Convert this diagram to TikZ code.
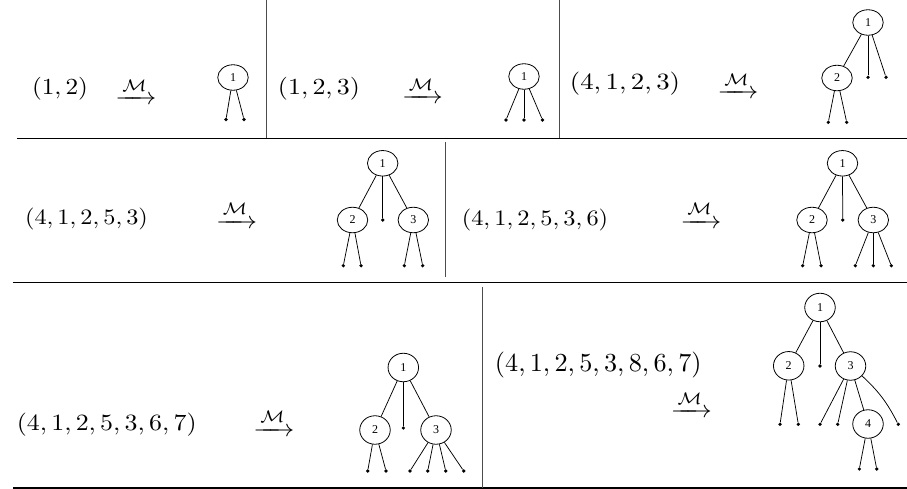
\documentclass[tikz,border=0pt]{standalone}
\usepackage{amsmath}
\usepackage{fontspec}
\newfontfamily\lblfont{Liberation Serif}
\usetikzlibrary{shapes.geometric}
\tikzset{
  tn/.style={ellipse, draw, line width=0.8pt, minimum width=30.5pt, minimum height=25.5pt, inner sep=0pt, font=\lblfont\fontsize{12}{13}\selectfont},
  tnb/.style={tn, minimum height=28.5pt},
  lf/.style={circle, fill, inner sep=0pt, minimum size=3.6pt},
  seq/.style={inner sep=0pt, anchor=center},
  arr/.style={inner sep=0pt, anchor=base, xscale=2.6, yscale=2.4},
  hrule/.style={line width=1.1pt},
  vrule/.style={line width=0.8pt, black!70},
  edge/.style={line width=0.75pt}
}
\begin{document}
\begin{tikzpicture}[x=1pt,y=-1pt]
\useasboundingbox (0,0) rectangle (907,489);
% table rules
\coordinate (h1a) at (17,138.3); \coordinate (h1b) at (907,138.3);
\coordinate (h2a) at (13,282.8); \coordinate (h2b) at (907,282.8);
\coordinate (h3a) at (13,488);   \coordinate (h3b) at (907,488);
\draw[hrule] (h1a) -- (h1b);
\draw[hrule] (h2a) -- (h2b);
\draw[hrule] (h3a) -- (h3b);
\coordinate (v1a) at (266,0);   \coordinate (v1b) at (266,138);
\coordinate (v2a) at (559,0);   \coordinate (v2b) at (559,138);
\coordinate (v3a) at (445,142); \coordinate (v3b) at (445,277);
\coordinate (v4a) at (482,286.5); \coordinate (v4b) at (482,488);
\draw[vrule] (v1a) -- (v1b);
\draw[vrule] (v2a) -- (v2b);
\draw[vrule] (v3a) -- (v3b);
\draw[vrule] (v4a) -- (v4b);

% ---------- Panel A
\node[seq, xscale=2.52, yscale=2.3] (tA) at (60,88.5) {$(1,2)$};
\node[arr] (mA) at (136,105) {$\xrightarrow{\mathcal{M}}$};
\node[tn] (a1) at (233,77.5) {1};
\node[lf] (a1x) at (226,119.5) {};
\node[lf] (a1y) at (244,119.5) {};
\draw[edge] (a1) -- (a1x); \draw[edge] (a1) -- (a1y);

% ---------- Panel B
\node[seq, xscale=2.59, yscale=2.3] (tB) at (319,88.5) {$(1,2,3)$};
\node[arr] (mB) at (422.5,104) {$\xrightarrow{\mathcal{M}}$};
\node[tn] (b1) at (524,76.5) {1};
\node[lf] (b1x) at (506,120) {};
\node[lf] (b1y) at (524,120) {};
\node[lf] (b1z) at (542.5,120) {};
\draw[edge] (b1) -- (b1x); \draw[edge] (b1) -- (b1y); \draw[edge] (b1) -- (b1z);

% ---------- Panel C
\node[seq, xscale=2.68, yscale=2.33] (tC) at (625,83.5) {$(4,1,2,3)$};
\node[arr] (mC) at (738,99) {$\xrightarrow{\mathcal{M}}$};
\node[tn] (c1) at (868,22.5) {1};
\node[tn] (c2) at (837,78) {2};
\node[lf] (c1y) at (868,77.3) {};
\node[lf] (c1z) at (886,77.3) {};
\node[lf] (c2x) at (828.3,122.3) {};
\node[lf] (c2y) at (846.7,122.3) {};
\draw[edge] (c1) -- (c2); \draw[edge] (c1) -- (c1y); \draw[edge] (c1) -- (c1z);
\draw[edge] (c2) -- (c2x); \draw[edge] (c2) -- (c2y);

% ---------- Panel D
\node[seq, xscale=2.43, yscale=2.2] (tD) at (86.5,219) {$(4,1,2,5,3)$};
\node[arr] (mD) at (236.7,228.5) {$\xrightarrow{\mathcal{M}}$};
\node[tn] (d1) at (382.7,163.3) {1};
\node[tn] (d2) at (352.5,220) {2};
\node[lf] (dm) at (382.7,220) {};
\node[tn] (d3) at (413.3,220) {3};
\node[lf] (d2x) at (343.3,265.7) {};
\node[lf] (d2y) at (361,265.7) {};
\node[lf] (d3x) at (404.3,265.7) {};
\node[lf] (d3y) at (422.7,265.7) {};
\draw[edge] (d1) -- (d2); \draw[edge] (d1) -- (dm); \draw[edge] (d1) -- (d3);
\draw[edge] (d2) -- (d2x); \draw[edge] (d2) -- (d2y);
\draw[edge] (d3) -- (d3x); \draw[edge] (d3) -- (d3y);

% ---------- Panel E
\node[seq, xscale=2.44, yscale=2.2] (tE) at (535,220) {$(4,1,2,5,3,6)$};
\node[arr] (mE) at (701,228.5) {$\xrightarrow{\mathcal{M}}$};
\node[tn] (e1) at (842.5,163.3) {1};
\node[tn] (e2) at (812,220) {2};
\node[lf] (em) at (842.7,220) {};
\node[tn] (e3) at (873.3,220) {3};
\node[lf] (e2x) at (802.7,265.7) {};
\node[lf] (e2y) at (821,265.7) {};
\node[lf] (e3x) at (855.3,265.7) {};
\node[lf] (e3y) at (873.3,265.7) {};
\node[lf] (e3z) at (891.3,265.7) {};
\draw[edge] (e1) -- (e2); \draw[edge] (e1) -- (em); \draw[edge] (e1) -- (e3);
\draw[edge] (e2) -- (e2x); \draw[edge] (e2) -- (e2y);
\draw[edge] (e3) -- (e3x); \draw[edge] (e3) -- (e3y); \draw[edge] (e3) -- (e3z);

% ---------- Panel F
\node[seq, xscale=2.59, yscale=2.33] (tF) at (106.7,425) {$(4,1,2,5,3,6,7)$};
\node[arr] (mF) at (274,436) {$\xrightarrow{\mathcal{M}}$};
\node[tnb] (f1) at (403.3,367.5) {1};
\node[tnb] (f2) at (375,430) {2};
\node[lf] (fm) at (403.3,428) {};
\node[tnb] (f3) at (436,430) {3};
\node[lf] (f2x) at (367.7,471) {};
\node[lf] (f2y) at (386,471) {};
\node[lf] (f3w) at (410,471) {};
\node[lf] (f3x) at (427.7,471) {};
\node[lf] (f3y) at (445.7,471) {};
\node[lf] (f3z) at (463.7,471) {};
\draw[edge] (f1) -- (f2); \draw[edge] (f1) -- (fm); \draw[edge] (f1) -- (f3);
\draw[edge] (f2) -- (f2x); \draw[edge] (f2) -- (f2y);
\draw[edge] (f3) -- (f3w); \draw[edge] (f3) -- (f3x); \draw[edge] (f3) -- (f3y); \draw[edge] (f3) -- (f3z);

% ---------- Panel G
\node[seq, xscale=2.62, yscale=2.6] (tG) at (598.3,365) {$(4,1,2,5,3,8,6,7)$};
\node[arr] (mG) at (691.3,417.7) {$\xrightarrow{\mathcal{M}}$};
\node[tnb] (g1) at (820,307.5) {1};
\node[tnb] (g2) at (788.7,365.8) {2};
\node[lf] (gm) at (820,366) {};
\node[tnb] (g3) at (850.5,366) {3};
\node[lf] (g2x) at (780,424.3) {};
\node[lf] (g2y) at (798.3,424.3) {};
\node[lf] (g3w) at (820,424.3) {};
\node[lf] (g3x) at (837.7,424.3) {};
\node[tnb] (g4) at (868,424) {4};
\node[lf] (g3z) at (898.3,424.3) {};
\node[lf] (g4x) at (859.3,469) {};
\node[lf] (g4y) at (876.7,469) {};
\draw[edge] (g1) -- (g2); \draw[edge] (g1) -- (gm); \draw[edge] (g1) -- (g3);
\draw[edge] (g2) -- (g2x); \draw[edge] (g2) -- (g2y);
\draw[edge] (g3) -- (g3w); \draw[edge] (g3) -- (g3x); \draw[edge] (g3) -- (g4);
\draw[edge] (g3) to[bend left=10] (g3z);
\draw[edge] (g4) -- (g4x); \draw[edge] (g4) -- (g4y);
\end{tikzpicture}
\end{document}
